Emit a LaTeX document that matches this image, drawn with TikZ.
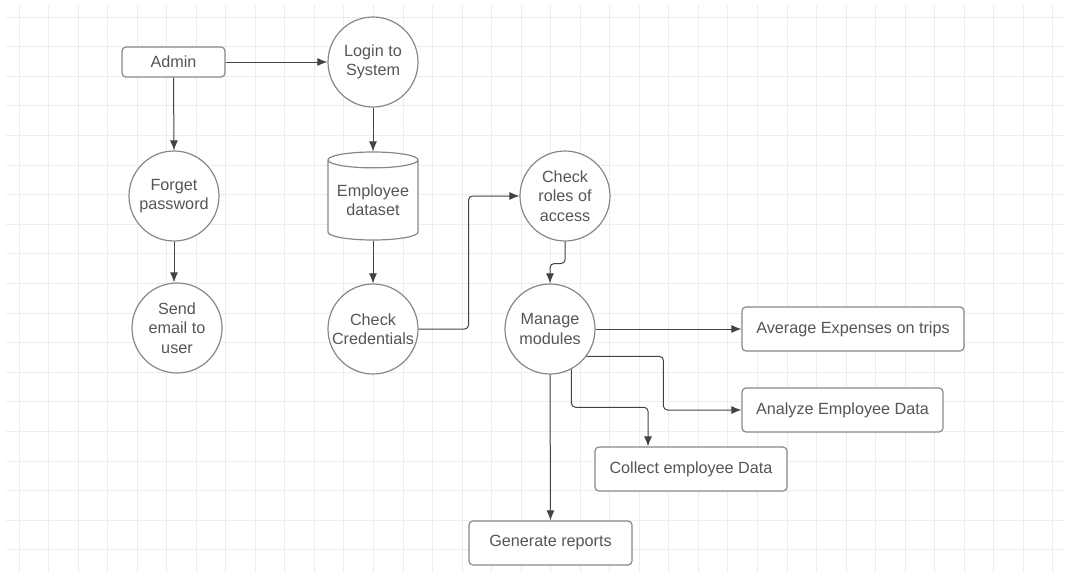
\documentclass[tikz,border=0pt]{standalone}
\usepackage{fontspec}
\setmainfont{Liberation Sans}
\usetikzlibrary{shapes.geometric,arrows.meta}
\definecolor{gridc}{HTML}{EDEDED}
\definecolor{shapec}{HTML}{85888D}
\definecolor{linec}{HTML}{3F444C}
\definecolor{textc}{HTML}{52565C}
\begin{document}
\begin{tikzpicture}[x=1pt,y=-1pt,
  every node/.style={font=\fontsize{16.2}{19.5}\selectfont, text=textc},
  proc/.style={circle, draw=shapec, line width=1.2pt, minimum size=90pt, inner sep=0pt, align=center, fill=white},
  box/.style={rectangle, rounded corners=4pt, draw=shapec, line width=1.2pt, inner sep=0pt, align=center, fill=white},
  store/.style={cylinder, shape border rotate=90, draw=shapec, line width=1.2pt, minimum width=90pt, minimum height=88pt, aspect=0.22, inner sep=0pt, align=center, fill=white},
  conn/.style={draw=linec, line width=1pt, -{Latex[length=10pt,width=8pt]}, rounded corners=4pt}]
\useasboundingbox (0,0) rectangle (1065,573);
\fill[white] (0,0) rectangle (1065,573);
% grid
\foreach \i in {0,...,35} \draw[gridc, line width=1pt] ({19+29.54*\i},5) -- ({19+29.54*\i},573);
\foreach \j in {0,...,18} \draw[gridc, line width=1pt] (6,{17+29.6*\j}) -- (1065,{17+29.6*\j});
% nodes
\node[box, minimum width=103pt, minimum height=30pt] (admin) at (173.5,62) {Admin};
\node[proc] (login) at (373,62) {Login to\\System};
\node[proc] (forget) at (174,196) {Forget\\password};
\node[proc] (send) at (177,328) {Send\\email to\\user};
\node[store, anchor=shape center] (data) at (373,196) {Employee\\dataset};
\node[proc] (cred) at (373,329) {Check\\Credentials};
\node[proc] (roles) at (565,196) {Check\\roles of\\access};
\node[proc] (manage) at (550,329) {Manage\\modules};
\node[box, minimum width=222pt, minimum height=44pt] (avg) at (853,329) {Average Expenses on trips};
\node[box, minimum width=201pt, minimum height=44pt] (analyze) at (842.5,410) {Analyze Employee Data};
\node[box, minimum width=192pt, minimum height=44pt] (collect) at (691,469) {Collect employee Data};
\node[box, minimum width=163pt, minimum height=44pt] (gen) at (550.5,543) {Generate reports};
% connectors
\draw[conn] (admin.east) -- (login.west);
\draw[conn] (admin.south) -- (forget.north);
\draw[conn] (forget.south) -- (forget.south |- send.north);
\draw[conn] (login.south) -- (data.top);
\draw[conn] (data.bottom) -- (cred.north);
\draw[conn] (cred.east) -- ++(50,0) |- (roles.west);
\draw[conn] (roles.south) -- ++(0,22) -| (manage.north);
\draw[conn] (manage.east) -- (avg.west);
\draw[conn] (manage.-37) -- ++(77,0) |- (analyze.west);
\draw[conn] (manage.-62) -- ++(0,38) -| ([xshift=-43pt]collect.north);
\draw[conn] (manage.south) -- (gen.north);
\end{tikzpicture}
\end{document}
